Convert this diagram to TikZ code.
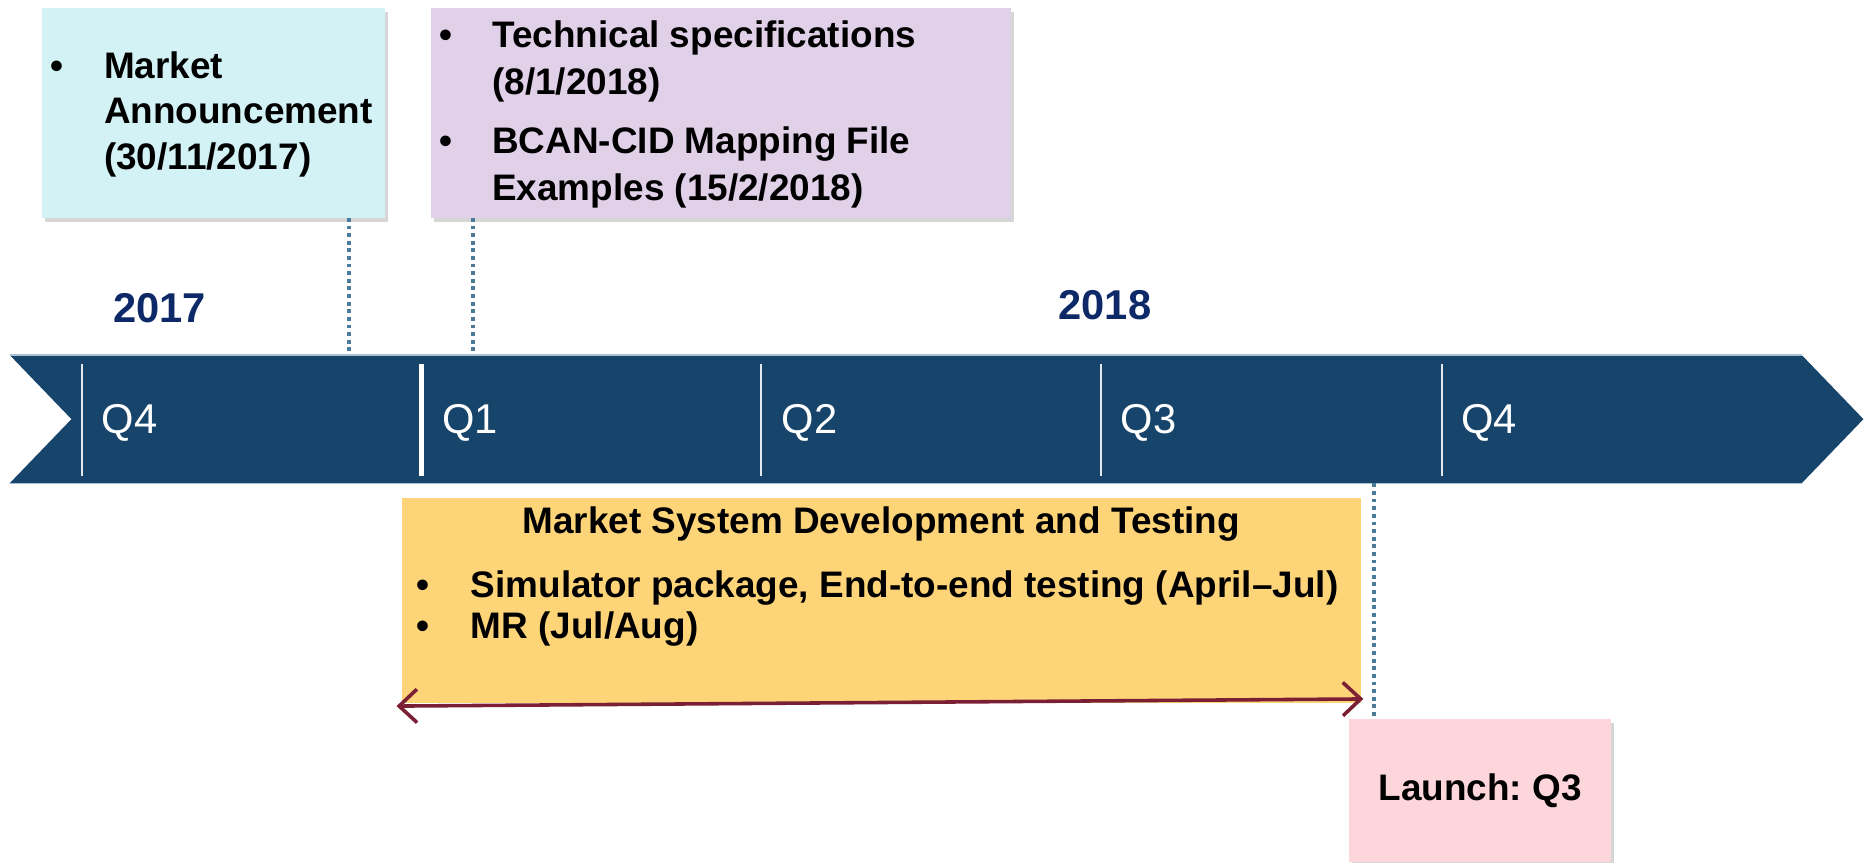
\documentclass[tikz,border=0pt]{standalone}
\usepackage{fontspec}
\setmainfont{Liberation Sans}
\usetikzlibrary{arrows.meta,shadows}
\frenchspacing

\definecolor{annfill}{HTML}{D3F2F5}
\definecolor{specfill}{HTML}{E0D0E8}
\definecolor{devfill}{HTML}{FED479}
\definecolor{launchfill}{HTML}{FDD6DC}
\definecolor{barblue}{HTML}{17446B}
\definecolor{baredge}{HTML}{A9C1D3}
\definecolor{yearblue}{HTML}{0E2968}
\definecolor{dotblue}{HTML}{4A7B98}
\definecolor{spanred}{HTML}{7B1F35}

\begin{document}
\begin{tikzpicture}[x=0.5pt,y=-0.5pt,
  card/.style={rectangle, inner sep=0pt, outer sep=0pt,
    drop shadow={shadow xshift=1.3pt, shadow yshift=-1.6pt, opacity=0.32}},
  cardtext/.style={anchor=west, inner sep=0pt, align=left,
    font=\bfseries\fontsize{15.5}{#1}\selectfont},
  year/.style={inner sep=0pt, text=yearblue, font=\bfseries\fontsize{17.5}{20}\selectfont},
  quarter/.style={anchor=west, inner sep=0pt, text=white, font=\fontsize{17.5}{20}\selectfont},
  tick/.style={line width=0.9pt, white!88!barblue},
  majortick/.style={line width=2pt, white},
  dotline/.style={dotblue, line width=1.7pt, dash pattern=on 1.6pt off 1.6pt},
  span/.style={spanred, line width=1.5pt,
    {Straight Barb[length=7.5pt,width=14pt,line width=1.5pt]}-{Straight Barb[length=7.5pt,width=14pt,line width=1.5pt]}}
]
\useasboundingbox (0,0) rectangle (1568,724);

% timeline bar with notched tail and pointed head
\fill[barblue] (8,298) -- (1513,298) -- (1565,352) -- (1513,406) -- (8,406) -- (60,352) -- cycle;
\draw[baredge, line width=0.6pt] (8,298) -- (1513,298);
\draw[baredge, line width=0.6pt] (8,406) -- (1513,406);

% quarter separators
\draw[tick] (69,306) -- (69,400);
\draw[majortick] (354,306) -- (354,400);
\draw[tick] (639,306) -- (639,400);
\draw[tick] (925,306) -- (925,400);
\draw[tick] (1211,306) -- (1211,400);

% quarter labels
\node[quarter] (q4a) at (85,355) {Q4};
\node[quarter] (q1) at (371,355) {Q1};
\node[quarter] (q2) at (656,355) {Q2};
\node[quarter] (q3) at (941,355) {Q3};
\node[quarter] (q4b) at (1227,355) {Q4};

% years
\node[year] (y2017) at (134,259) {2017};
\node[year] (y2018) at (928,256) {2018};

% milestone cards above the bar
\node[card, fill=annfill, minimum width=144pt, minimum height=88pt] (ann) at (179,95) {};
\node[cardtext=19] (anntext) at (42,96)
  {\makebox[22.5pt][l]{•}Market\\\hspace*{22.5pt}Announcement\\\hspace*{22.5pt}(30/11/2017)};

\node[card, fill=specfill, minimum width=243.5pt, minimum height=88pt] (spec) at (605.5,95) {};
\node[cardtext=20] (spectext) at (369,96)
  {\makebox[22pt][l]{•}Technical specifications\\\hspace*{22pt}(8/1/2018)\\[4.5pt]
   \makebox[22pt][l]{•}BCAN-CID Mapping File\\\hspace*{22pt}Examples (15/2/2018)};

% development block below the bar
\node[rectangle, inner sep=0pt, fill=devfill, minimum width=402.5pt, minimum height=86pt] (dev) at (740.5,504) {};
\node[inner sep=0pt, font=\bfseries\fontsize{15.5}{17}\selectfont] (devtitle) at (740,440)
  {Market System Development and Testing};
\node[cardtext=17] (devitems) at (349,511)
  {\makebox[23pt][l]{•}Simulator package, End-to-end testing (April–Jul)\\\makebox[23pt][l]{•}MR (Jul/Aug)};

% launch card
\node[card, fill=launchfill, minimum width=110pt, minimum height=60pt,
  font=\bfseries\fontsize{15.5}{18}\selectfont] (launch) at (1243,664) {Launch: Q3};

% markers on the bar
\coordinate (mAnn) at (293,298);
\coordinate (mSpec) at (397,298);
\coordinate (mLaunch) at (1154,406);
\draw[dotline] (ann.south -| mAnn) -- (mAnn);
\draw[dotline] (spec.south -| mSpec) -- (mSpec);
\draw[dotline] (mLaunch) -- (launch.north -| mLaunch);

% development span
\coordinate (spanL) at (333,593);
\coordinate (spanR) at (1145,587);
\draw[span] (spanL) -- (spanR);
\end{tikzpicture}
\end{document}
